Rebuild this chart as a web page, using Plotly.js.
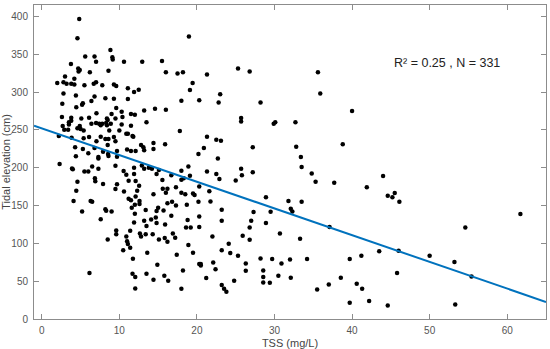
<!DOCTYPE html>
<html>
<head>
<meta charset="utf-8">
<script src="https://cdn.plot.ly/plotly-3.0.1.min.js"></script>
<style>html,body{margin:0;padding:0;background:#fff;}#chart{width:550px;height:349px;}</style>
</head>
<body>
<div id="chart"></div>
<script>
// TSS (mg/L) values
const tss = [
4.83,4.6,8.85,9.1,9.15,5.6,6.8,7.0,3.76,10.6,12.95,15.5,4.7,4.75,4.9,6.2,8.6,16.0,17.5,18.2,18.97,3.0,4.2,2.0,2.8,3.2,3.8,4.2,5.5,6.7,7.0,7.8,9.3,9.6,11.1,12.5,11.9,19.45,19.1,20.3,18.0,2.8,4.4,6.8,8.2,9.3,11.1,6.4,2.65,5.2,5.3,4.45,9.6,7.05,9.0,10.3,11.5,12.0,13.2,14.6,16.0,
2.6,3.8,3.8,5.1,6.1,8.4,8.5,9.5,10.4,3.5,3.5,2.7,4.6,4.9,5.0,7.0,7.4,7.8,8.3,8.4,6.4,7.6,8.9,13.5,10.9,11.1,11.7,11.8,8.7,10.0,5.4,2.2,2.9,3.4,3.85,5.4,7.6,8.2,8.6,9.3,9.5,6.1,7.05,4.3,8.5,11.0,12.8,13.1,13.2,12.1,14.4,14.4,17.8,15.9,6.0,7.3,7.3,8.55,8.6,9.7,9.7,11.5,20.2,2.3,3.9,4.0,5.5,6.0,6.5,7.3,9.5,10.55,10.9,11.9,11.9,12.9,13.2,13.8,14.2,15.1,14.8,15.55,16.7,18.0,18.0,18.3,18.9,19.1,4.6,9.5,9.7,11.2,12.1,10.6,11.2,11.5,12.3,12.1,14.4,15.6,16.2,16.0,17.3,18.0,18.5,19.5,4.45,4.1,6.3,6.5,5.2,7.6,8.2,8.3,9.0,11.6,12.0,12.0,12.6,12.6,13.4,15.0,14.8,15.7,14.7,14.1,13.2,16.7,16.2,16.8,18.7,18.8,20.3,20.3,19.7,20.2,17.3,
10.3,11.5,12.55,5.3,6.8,7.9,4.4,6.85,6.9,7.9,
11.9,13.5,14.8,15.9,18.6,19.2,20.3,9.6,9.6,11.4,8.5,10.9,12.65,12.8,13.4,14.3,15.1,15.85,16.2,16.9,17.2,11.0,11.1,11.4,10.5,13.6,17.4,18.9,19.5,20.3,11.75,14.9,6.15,11.7,12.05,13.5,14.4,15.8,16.3,18.2,18.0,12.05,
25.3,26.8,21.3,35.6,35.9,23.0,22.8,28.2,40.0,25.7,25.7,29.9,30.1,32.7,21.3,22.5,23.1,20.9,22.7,27.2,32.8,33.4,33.5,38.8,21.3,22.5,22.9,25.7,25.8,27.2,25.0,34.8,35.3,37.7,41.9,21.6,21.75,28.9,31.8,32.1,32.3,33.5,23.2,27.3,29.5,23.2,27.0,28.9,26.8,37.1,22.0,25.9,26.8,30.7,33.3,24.1,23.2,24.3,25.3,28.2,29.7,32.0,34.2,39.7,41.2,20.5,20.5,22.1,26.3,30.9,22.4,26.3,28.55,28.55,28.55,30.5,32.1,21.2,24.8,29.4,23.2,23.5,23.8,35.5,37.0,38.55,40.6,41.3,39.7,42.2,
44.0,44.6,45.2,45.5,46.1,61.7,54.6,43.5,46.0,50.0,53.2,55.4,45.8,44.6,53.3
];
// Tidal elevation (cm) values, same order
const elev = [
396.5,371,355.5,346,343,347,347,340,337,340,340,341,331,327,329,326,328,326,324.6,326,373.5,320.6,317.6,312,313,311,311,310,309,311,313,309,310,308,305,303,300,312,302.7,289,288.5,298,295.5,294,291.6,291,290.8,288,284.6,283,285,280,279,272,271,274,271,270,275.7,278,276.6,
267,266,262,265,266,265,263,265,267,260,257,255,252,255,251,259,258,258,259,256,258,256,258,260,245,245,242,241,249,249,249,242,250,250,239.6,239,241,238,238,240.5,235,240.5,235,227,230,224,230,227,223,222,232.6,224.7,248.5,231,219,214,212,218,215.5,222,214.5,222,218,205,199,198,195,195,201.7,198.6,202.6,195.6,190.7,200,191.6,203,198.6,200,198.6,197,191.6,183.7,190,196,184,186,201.7,189.4,181.5,171.8,178,182.8,182.4,168.6,159,156.8,169.6,162,165,172,172,167,174,167,165,166,169.6,156,156,155,142,132,145,143,142,147,139,151,156,152,144,147,142.7,143.5,134,131.6,130,136.5,153,155,151,131,135.6,175,164,155,150,
257,255.5,176,224.7,226,221,215,186,182,178.4,
127.7,123,127,125,121,121,121.6,117,112,116.7,105,109,113,109,112,112,105,107,102,113,107.5,102.6,99,94.2,90.7,87.6,85,97.8,87.6,72.7,79.7,71.8,60.8,59.9,55.5,59.9,52,57,50.6,64,40,40.4,
331,327,323,326,298,297,286,286,275,265.7,261,258,260,260,241,237,235.7,226,212,227,227.7,214,201,231,195,191.6,185,198.6,190,194,183,192.4,181.5,180,174,169,155.4,161,156,145.8,142,155,144.5,141.4,141.8,130,130,127,121,121.6,109,110,104.8,113,106,99.5,91,87.2,83.6,80,79.3,78.8,79.3,79.3,83.6,72.7,70.8,74.8,73.5,73.5,65.6,63.8,64.2,55.5,48.4,57.2,54.6,54.2,50.6,48,45,40,36,39,45.7,54.6,46.7,40,21.5,23.8,
189,163,161,166.5,155,138.8,121,89.4,90.3,83.6,75.3,56.3,60.8,18,19
];
// Linear fit
const fitIntercept = 252;
const fitSlope = -3.53;
const fitX = [-1, 65];
const xTicks = [0, 10, 20, 30, 40, 50, 60];
const yTicks = [0, 50, 100, 150, 200, 250, 300, 350, 400];
const statsText = 'R² = 0.25 , N = 331';

const fitY = fitX.map(x => fitIntercept + fitSlope * x);

const axisCommon = {
  showgrid: false, zeroline: false, showline: true, linecolor: '#8c8c8c', linewidth: 1,
  mirror: 'ticks', ticks: 'inside', ticklen: 5, tickwidth: 1, tickcolor: '#8c8c8c',
  tickfont: {family: 'Liberation Sans, Arial, sans-serif', size: 10, color: '#555'}
};

const data = [
  {x: tss, y: elev, type: 'scatter', mode: 'markers',
   marker: {color: '#000', size: 4.5}, hoverinfo: 'skip'},
  {x: fitX, y: fitY, type: 'scatter', mode: 'lines',
   line: {color: '#0072BD', width: 2}, hoverinfo: 'skip'}
];

const layout = {
  width: 550, height: 349,
  margin: {l: 34, r: 4, t: 5, b: 30},
  paper_bgcolor: '#fff', plot_bgcolor: '#fff',
  showlegend: false,
  xaxis: Object.assign({}, axisCommon, {
    range: [-1, 65], tickvals: xTicks, ticklabelstandoff: 2,
    title: {text: 'TSS (mg/L)', font: {family: 'Liberation Sans, Arial, sans-serif', size: 11, color: '#444'}, standoff: 4}
  }),
  yaxis: Object.assign({}, axisCommon, {
    range: [0, 415], tickvals: yTicks, ticklabelstandoff: 3,
    title: {text: 'Tidal elevation (cm)', font: {family: 'Liberation Sans, Arial, sans-serif', size: 11, color: '#444'}, standoff: 4}
  }),
  annotations: [{
    text: statsText, xref: 'x', yref: 'y', x: 52.3, y: 338.5, showarrow: false,
    font: {family: 'Liberation Sans, Arial, sans-serif', size: 12.5, color: '#222'}
  }]
};

Plotly.newPlot('chart', data, layout, {displayModeBar: false, staticPlot: true});
</script>
</body>
</html>
